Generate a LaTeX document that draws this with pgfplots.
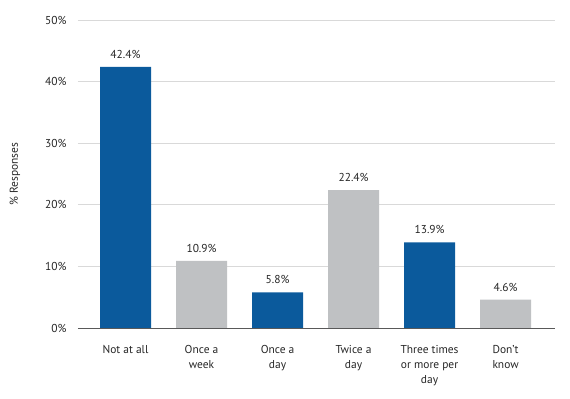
\documentclass[border=0pt]{standalone}
\usepackage{pgfplots}
\pgfplotsset{compat=1.18}
\usepackage{fontspec}
\setmainfont{PT Sans}
\definecolor{barblue}{HTML}{0B5A9C}
\definecolor{bargray}{HTML}{BFC1C3}
\definecolor{gridgray}{HTML}{D9D9D9}
\definecolor{txt}{HTML}{262626}
\begin{document}
\begin{tikzpicture}
\begin{axis}[
  scale only axis,
  width=477bp, height=308bp,
  ymin=0, ymax=50,
  xmin=-0.625, xmax=5.65,
  ytick={0,10,20,30,40,50},
  yticklabel={\pgfmathprintnumber{\tick}\%},
  /pgf/number format/assume math mode=true,
  xtick={0,1,2,3,4,5},
  xticklabels={Not at all,{Once a\\week},{Once a\\day},{Twice a\\day},{Three times\\or more per\\day},{Don't\\know}},
  xticklabel style={align=center, font=\fontsize{11.5}{15}\selectfont, text=txt, yshift=-14bp},
  yticklabel style={font=\fontsize{11.5}{12}\selectfont, text=txt, xshift=-8bp},
  major tick length=0pt,
  axis line style={draw=none},
  axis x line*=bottom,
  axis y line*=left,
  ymajorgrids, grid style={gridgray, line width=0.8pt},
  ylabel={\% Responses},
  every axis y label/.style={at={(rel axis cs:0,0.5)}, xshift=-63bp, rotate=90, anchor=center, font=\fontsize{11.5}{12}\selectfont, text=txt},
  bar width=51bp,
  nodes near coords={\pgfmathprintnumber[fixed,fixed zerofill,precision=1]{\pgfplotspointmeta}\%},
  nodes near coords style={font=\fontsize{11.5}{12}\selectfont, text=txt, yshift=5bp},
  clip=false,
]
\addplot[ybar, bar shift=0pt, fill=barblue, draw=none] coordinates {(0,42.4) (2,5.8) (4,13.9)};
\addplot[ybar, bar shift=0pt, fill=bargray, draw=none] coordinates {(1,10.9) (3,22.4) (5,4.6)};
\draw[gray!70!black, line width=0.8pt] (rel axis cs:0,0) -- (rel axis cs:1,0);
\end{axis}
\path (current axis.south west) ++(-78bp,-71bp) coordinate (a);
\path (current axis.north east) ++(15bp,20bp) coordinate (b);
\path (a) rectangle (b);
\end{tikzpicture}
\end{document}
